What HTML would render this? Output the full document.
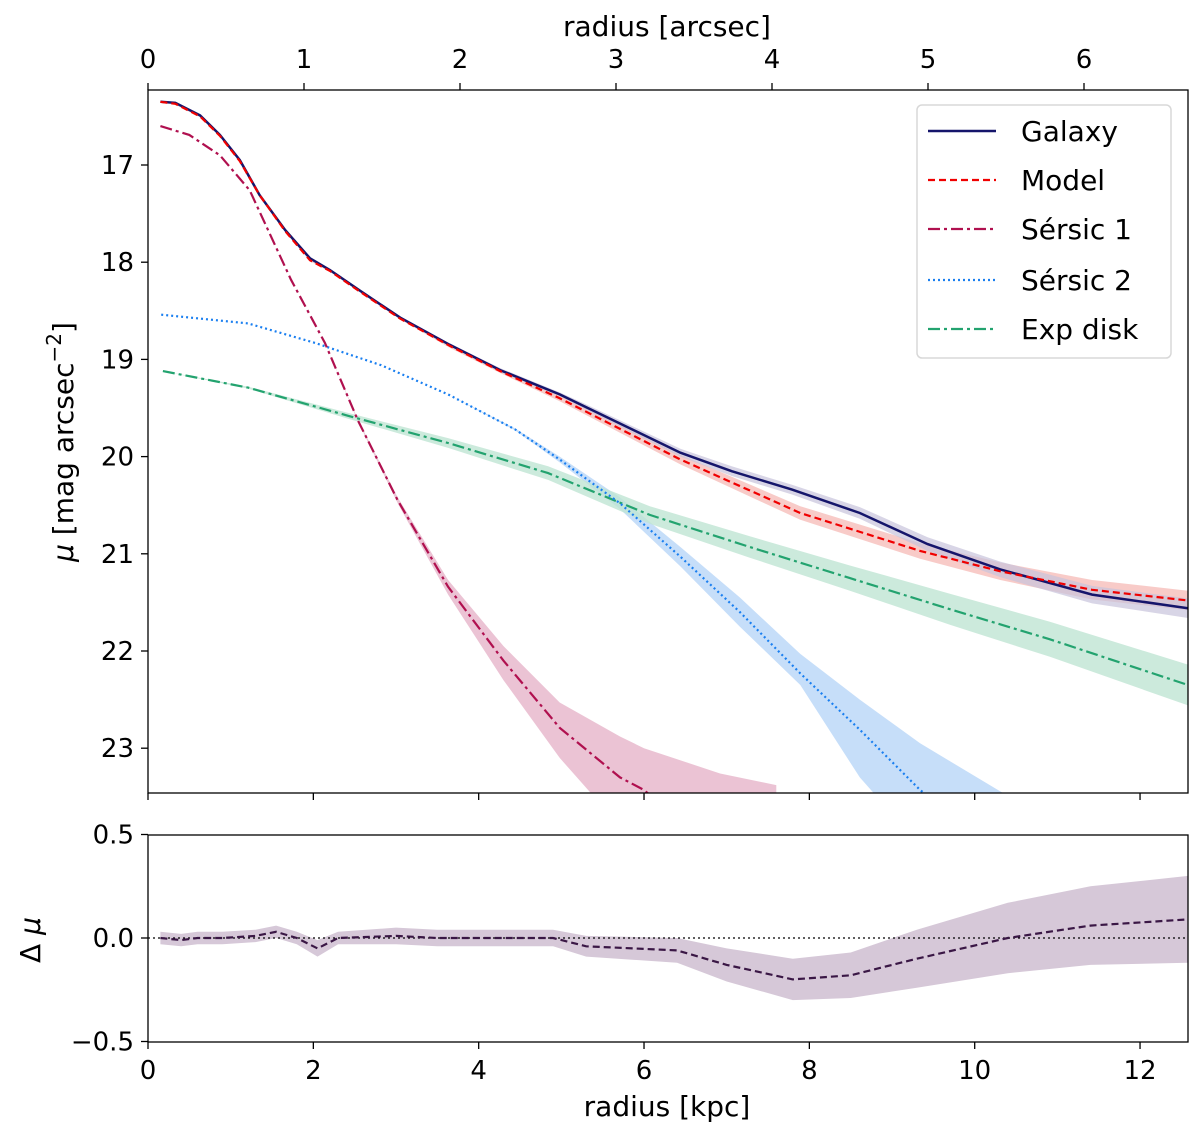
<!DOCTYPE html>
<html><head><meta charset="utf-8"><style>
html,body{margin:0;padding:0;background:#fff;}
svg{display:block;font-family:"DejaVu Sans","Liberation Sans",sans-serif;}
</style></head><body>
<svg id="chart" width="1200" height="1141" xmlns="http://www.w3.org/2000/svg">
<defs>
<clipPath id="clipMain"><rect x="148" y="90" width="1040" height="703"/></clipPath>
<clipPath id="clipRes"><rect x="148" y="835" width="1040" height="207"/></clipPath>
</defs>
<g id="mainBands" clip-path="url(#clipMain)"></g>
<g id="mainLines" clip-path="url(#clipMain)"></g>
<g id="resG" clip-path="url(#clipRes)"></g>
<g id="axesG"></g>
</svg>
<script>
// ---- data (radius in kpc, mu in mag arcsec^-2) ----
const galX = [0.15,0.33,0.63,0.87,1.11,1.35,1.66,1.96,2.2,2.56,3.05,3.65,4.26,4.98,5.32,6.44,7.06,7.79,8.61,9.43,10.31,11.42,12.58];
const galY = [16.35,16.36,16.49,16.69,16.95,17.31,17.67,17.96,18.08,18.29,18.57,18.85,19.11,19.36,19.5,19.96,20.15,20.34,20.58,20.9,21.16,21.42,21.56];
const galErr = [0.01,0.01,0.01,0.01,0.01,0.01,0.01,0.01,0.01,0.01,0.01,0.01,0.02,0.02,0.03,0.04,0.05,0.05,0.06,0.07,0.08,0.09,0.1];
const modX = [0.15,0.33,0.63,0.87,1.11,1.35,1.66,1.96,2.2,2.56,3.05,3.65,4.26,4.98,6.44,7.89,9.34,10.31,11.42,12.58];
const modY = [16.35,16.37,16.5,16.7,16.96,17.31,17.68,17.98,18.09,18.3,18.58,18.86,19.12,19.4,20.03,20.58,20.97,21.18,21.37,21.48];
const modErr = [0.01,0.01,0.01,0.01,0.01,0.01,0.01,0.01,0.01,0.01,0.01,0.02,0.02,0.03,0.05,0.07,0.08,0.09,0.1,0.1];
const s1X = [0.15,0.5,0.87,1.23,1.73,2.14,2.54,3.02,3.63,4.3,4.98,5.71,6.0,6.92,7.6];
const s1Y = [16.6,16.69,16.9,17.26,18.18,18.83,19.63,20.45,21.34,22.1,22.79,23.3,23.43,24.1,24.5];
const s1Lo = [16.6,16.69,16.9,17.26,18.18,18.83,19.62,20.42,21.27,21.95,22.53,22.88,23.0,23.26,23.38];
const s1Hi = [16.6,16.69,16.9,17.26,18.18,18.83,19.64,20.48,21.42,22.3,23.1,23.8,24.0,24.8,25.3];
const s2X = [0.16,1.21,2.02,2.82,3.63,4.44,4.98,5.71,6.44,7.16,7.89,8.61,9.34,10.34];
const s2Y = [18.54,18.63,18.83,19.06,19.36,19.72,20.03,20.48,21.03,21.6,22.23,22.81,23.43,24.1];
const s2Lo = [18.54,18.63,18.83,19.06,19.36,19.71,20.0,20.42,20.93,21.45,22.03,22.5,22.95,23.46];
const s2Hi = [18.54,18.63,18.83,19.06,19.36,19.73,20.06,20.54,21.13,21.75,22.35,23.3,24.0,24.8];
const expX = [0.18,1.21,2.42,3.63,4.84,6.07,7.28,8.49,9.7,10.91,12.58];
const expY = [19.12,19.29,19.58,19.86,20.17,20.6,20.93,21.25,21.57,21.88,22.35];
const expErr = [0.0,0.01,0.03,0.05,0.07,0.09,0.11,0.13,0.16,0.18,0.21];
const resX = [0.15,0.4,0.6,0.9,1.3,1.55,1.8,2.05,2.3,3.0,3.5,4.2,4.9,5.3,6.4,7.0,7.8,8.5,9.3,10.4,11.4,12.58];
const resY = [0,-0.01,0,0,0.01,0.03,0.0,-0.05,0.0,0.01,0.0,0.0,0.0,-0.04,-0.06,-0.13,-0.2,-0.18,-0.1,0.0,0.06,0.09];
const resErr = [0.03,0.03,0.03,0.03,0.03,0.03,0.03,0.04,0.03,0.04,0.04,0.04,0.04,0.05,0.06,0.08,0.1,0.11,0.14,0.17,0.19,0.21];
const kpcTicks = [0,2,4,6,8,10,12];
const arcTicks = [0,1,2,3,4,5,6];
const muTicks = [17,18,19,20,21,22,23];
const resTicks = [0.5,0.0,-0.5];
const resTickLabels = ["0.5","0.0","\u22120.5"];

// ---- scales ----
const X0=148, X1=1188, KPC_PX=82.67, ARC_PX=156;
const sx = v => X0 + v*KPC_PX;
const sa = v => X0 + v*ARC_PX;
const sy = v => 165 + (v-17)*97.2;
const sr = v => 938 - v*207;
const NS="http://www.w3.org/2000/svg";
function mk(tag, attrs, parent){const e=document.createElementNS(NS,tag);for(const k in attrs)e.setAttribute(k,attrs[k]);parent.appendChild(e);return e;}
function linePath(xs,ys,fy){return xs.map((x,i)=>(i?'L':'M')+sx(x).toFixed(1)+','+fy(ys[i]).toFixed(1)).join('');}
function bandPath(xs,lo,hi,fy){let d=xs.map((x,i)=>(i?'L':'M')+sx(x).toFixed(1)+','+fy(lo[i]).toFixed(1)).join('');for(let i=xs.length-1;i>=0;i--)d+='L'+sx(xs[i]).toFixed(1)+','+fy(hi[i]).toFixed(1);return d+'Z';}
const pm=(y,e,s)=>y.map((v,i)=>v+s*e[i]);

const bands=document.getElementById('mainBands'), lines=document.getElementById('mainLines'), resG=document.getElementById('resG'), ax=document.getElementById('axesG');

let b;
b=mk('path',{d:bandPath(s1X,s1Lo,s1Hi,sy),fill:'#e8b9cc',opacity:'0.85'},bands);


b=mk('path',{d:bandPath(s2X,s2Lo,s2Hi,sy),fill:'#bcd8f8',opacity:'0.85'},bands);


b=mk('path',{d:bandPath(expX,pm(expY,expErr,-1),pm(expY,expErr,1),sy),fill:'#bfe5d3',opacity:'0.8'},bands);


b=mk('path',{d:bandPath(modX,pm(modY,modErr,-1),pm(modY,modErr,1),sy),fill:'#f5b5b0',opacity:'0.7'},bands);


b=mk('path',{d:bandPath(galX,pm(galY,galErr,-1),pm(galY,galErr,1),sy),fill:'#c8c3dc',opacity:'0.7'},bands);



let l;
l=mk('path',{d:linePath(expX,expY,sy),fill:'none',stroke:'#23a36f','stroke-width':2.2,'stroke-dasharray':'12,4,3,4'},lines);


l=mk('path',{d:linePath(s2X,s2Y,sy),fill:'none',stroke:'#1a7ff0','stroke-width':2.2,'stroke-dasharray':'2,3'},lines);


l=mk('path',{d:linePath(s1X,s1Y,sy),fill:'none',stroke:'#b0104f','stroke-width':2.2,'stroke-dasharray':'12,4,3,4'},lines);


l=mk('path',{d:linePath(galX,galY,sy),fill:'none',stroke:'#15156b','stroke-width':2.5},lines);


l=mk('path',{d:linePath(modX,modY,sy),fill:'none',stroke:'#f00000','stroke-width':2.2,'stroke-dasharray':'7,4'},lines);



// residual
b=mk('path',{d:bandPath(resX,pm(resY,resErr,-1),pm(resY,resErr,1),sr),fill:'#d6c8d8'},resG);


l=mk('line',{x1:X0,x2:X1,y1:sr(0),y2:sr(0),stroke:'#000','stroke-width':1.2,'stroke-dasharray':'2,3'},resG);


l=mk('path',{d:linePath(resX,resY,sr),fill:'none',stroke:'#3a1745','stroke-width':2.2,'stroke-dasharray':'7,4'},resG);



// frames
let f=mk('rect',{x:148,y:90,width:1040,height:703,fill:'none',stroke:'#000','stroke-width':1.3},ax);


f=mk('rect',{x:148,y:835,width:1040,height:207,fill:'none',stroke:'#000','stroke-width':1.3},ax);



const TS='font-size:26px;fill:#000';
kpcTicks.forEach(v=>{
  const x=sx(v);
  mk('line',{x1:x,x2:x,y1:793,y2:800,stroke:'#000','stroke-width':1.3},ax);
  mk('line',{x1:x,x2:x,y1:1042,y2:1049,stroke:'#000','stroke-width':1.3},ax);
  const t=mk('text',{x:x,y:1079,'text-anchor':'middle',style:TS},ax);t.textContent=v;
  
  
});
arcTicks.forEach(v=>{
  const x=sa(v);
  mk('line',{x1:x,x2:x,y1:83,y2:90,stroke:'#000','stroke-width':1.3},ax);
  const t=mk('text',{x:x,y:68,'text-anchor':'middle',style:TS},ax);t.textContent=v;
  
  
});
muTicks.forEach(v=>{
  const y=sy(v);
  mk('line',{x1:141,x2:148,y1:y,y2:y,stroke:'#000','stroke-width':1.3},ax);
  const t=mk('text',{x:134,y:y+9,'text-anchor':'end',style:TS},ax);t.textContent=v;
  
  
});
resTicks.forEach((v,i)=>{
  const y=sr(v);
  mk('line',{x1:141,x2:148,y1:y,y2:y,stroke:'#000','stroke-width':1.3},ax);
  const t=mk('text',{x:134,y:y+9,'text-anchor':'end',style:TS},ax);t.textContent=resTickLabels[i];
  
  
});
</script>
<svg style="position:absolute;left:0;top:0" width="1200" height="1141" xmlns="http://www.w3.org/2000/svg">
<g style="font-family:'DejaVu Sans','Liberation Sans',sans-serif;font-size:28px;fill:#000">
<text x="667" y="1116" text-anchor="middle">radius [kpc]</text>
<text x="667" y="36" text-anchor="middle">radius [arcsec]</text>
<text transform="translate(73,442) rotate(-90)" text-anchor="middle"><tspan font-style="italic">μ</tspan> [mag arcsec<tspan dy="-12" font-size="20">−2</tspan><tspan dy="12">]</tspan></text>
<text transform="translate(40,940) rotate(-90)" text-anchor="middle">Δ <tspan font-style="italic">μ</tspan></text>
<g>
<rect x="917" y="105" width="254" height="253" rx="5" fill="#fff" fill-opacity="0.85" stroke="#d8d8d8" stroke-width="1.5"/>
<line x1="928" x2="996" y1="131" y2="131" stroke="#15156b" stroke-width="2.5"/>
<text x="1021" y="141">Galaxy</text>
<line x1="928" x2="996" y1="180" y2="180" stroke="#f00000" stroke-width="2.2" stroke-dasharray="7,4"/>
<text x="1021" y="190">Model</text>
<line x1="928" x2="996" y1="229" y2="229" stroke="#b0104f" stroke-width="2.2" stroke-dasharray="12,4,3,4"/>
<text x="1021" y="239">Sérsic 1</text>
<line x1="928" x2="996" y1="280" y2="280" stroke="#1a7ff0" stroke-width="2.2" stroke-dasharray="2,3"/>
<text x="1021" y="290">Sérsic 2</text>
<line x1="928" x2="996" y1="329" y2="329" stroke="#23a36f" stroke-width="2.2" stroke-dasharray="12,4,3,4"/>
<text x="1021" y="339">Exp disk</text>
</g>
</g>
</svg>
</body></html>
